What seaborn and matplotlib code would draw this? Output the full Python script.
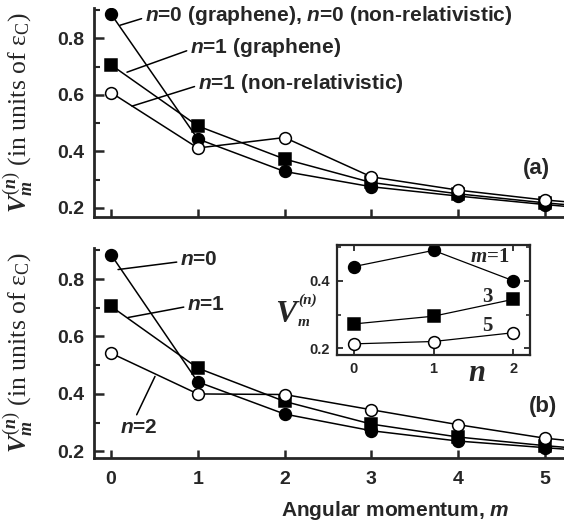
import numpy as np
import pandas as pd
import matplotlib
matplotlib.use("Agg")
import matplotlib.pyplot as plt
import seaborn as sns

# ---- data -------------------------------------------------------------
m_vals = [0, 1, 2, 3, 4, 5, 6]
m_ticks = [0, 1, 2, 3, 4, 5]

# panel (a): graphene vs non-relativistic pseudopotentials
a_n0 = [0.886, 0.444, 0.329, 0.275, 0.242, 0.212, 0.185]
a_n1_graphene = [0.706, 0.490, 0.373, 0.290, 0.250, 0.218, 0.192]
a_n1_nonrel = [0.608, 0.412, 0.449, 0.310, 0.263, 0.228, 0.203]

# panel (b): graphene, Landau levels n = 0, 1, 2
b_n0 = [0.885, 0.442, 0.330, 0.272, 0.236, 0.213, 0.190]
b_n1 = [0.705, 0.490, 0.374, 0.295, 0.250, 0.220, 0.195]
b_n2 = [0.542, 0.400, 0.398, 0.345, 0.293, 0.246, 0.215]

# inset: V_m^(n) versus n for m = 1, 3, 5
inset_n = [0, 1, 2]
inset_m = [1, 3, 5]

# ---- style ------------------------------------------------------------
sns.set_style("ticks")
plt.rcParams["font.family"] = ["Liberation Sans", "DejaVu Sans"]
plt.rcParams["font.weight"] = "bold"
plt.rcParams["mathtext.fontset"] = "custom"
plt.rcParams["mathtext.rm"] = "Liberation Serif:regular"
plt.rcParams["mathtext.it"] = "Liberation Serif:bold:italic"
plt.rcParams["mathtext.bf"] = "Liberation Serif:bold"
plt.rcParams["mathtext.bfit"] = "Liberation Sans:bold:italic"

W, H = 564, 525
fig = plt.figure(figsize=(W / 100, H / 100), dpi=100)
fig.patch.set_facecolor("white")


def frac(left, top, right, bottom):
    return [left / W, 1 - bottom / H, (right - left) / W, (bottom - top) / H]


ax_a = fig.add_axes(frac(94, 8, 564, 217))
ax_b = fig.add_axes(frac(94, 248, 564, 458))
ax_in = fig.add_axes(frac(337, 245, 530, 355))

LW = 1.1
MS = 8.5
filled_circle = dict(marker="o", markerfacecolor="black", markeredgecolor="black")
filled_square = dict(marker="s", markerfacecolor="black", markeredgecolor="black")
open_circle = dict(marker="o", markerfacecolor="white", markeredgecolor="black")


def series(ax, y, style, lw=LW, ms=MS):
    sns.lineplot(x=m_vals, y=y, ax=ax, color="black", linewidth=lw,
                 markersize=ms, markeredgewidth=1.1, legend=False, **style)


for ax, ylim in ((ax_a, (0.168, 0.907)), (ax_b, (0.177, 0.908))):
    ax.set_xlim(-0.196, 5.22)
    ax.set_ylim(*ylim)
    ax.spines["top"].set_visible(False)
    ax.spines["right"].set_visible(False)
    for s in ("left", "bottom"):
        ax.spines[s].set_linewidth(2.0)
    ax.set_xticks(m_ticks)
    ax.set_yticks([0.2, 0.4, 0.6, 0.8])
    ax.set_yticklabels(["0.2", "0.4", "0.6", "0.8"])
    ax.set_yticks([0.3, 0.5, 0.7, 0.9], minor=True)
    ax.tick_params(axis="both", which="major", direction="in", length=7,
                   width=1.8, labelsize=14)
    ax.tick_params(axis="y", which="major", pad=7)
    ax.tick_params(axis="x", which="major", pad=9, length=6)
    ax.tick_params(axis="y", which="minor", direction="in", length=4, width=1.5)
    ax.set_ylabel(r"$\mathit{V}_{\mathit{m}}^{\mathit{(n)}}$ (in units of $\mathrm{ε}_\mathrm{C}$)",
                  family="Liberation Serif", fontweight="normal", fontsize=18.5)
    ax.yaxis.set_label_coords(-0.125, 0.5)
    ax.set_xlabel("")

ax_a.set_xticklabels([])
ax_b.set_xticklabels([str(t) for t in m_ticks])

# panel (a)
series(ax_a, a_n0, filled_circle)
series(ax_a, a_n1_graphene, filled_square)
series(ax_a, a_n1_nonrel, open_circle)

# panel (b)
series(ax_b, b_n0, filled_circle)
series(ax_b, b_n1, filled_square)
series(ax_b, b_n2, open_circle)

lead = dict(arrowstyle="-", lw=LW, color="black", shrinkA=0, shrinkB=0)
txt = dict(fontsize=15, fontweight="bold", ha="left", va="center")

ax_a.annotate(r"$\mathbfit{n}$=0 (graphene), $\mathbfit{n}$=0 (non-relativistic)",
              xy=(0.104, 0.846), xytext=(0.39, 0.881),
              arrowprops=dict(relpos=(0, 0.4), **lead), **txt)
ax_a.annotate(r"$\mathbfit{n}$=1 (graphene)",
              xy=(0.184, 0.68), xytext=(0.91, 0.768),
              arrowprops=dict(relpos=(0, 0.4), **lead), **txt)
ax_a.annotate(r"$\mathbfit{n}$=1 (non-relativistic)",
              xy=(0.242, 0.56), xytext=(1.0, 0.641),
              arrowprops=dict(relpos=(0, 0.4), **lead), **txt)
ax_a.text(4.9, 0.338, "(a)", fontsize=16, fontweight="bold", ha="center", va="center")

ax_b.annotate(r"$\mathbfit{n}$=0", xy=(0.081, 0.833), xytext=(0.795, 0.867),
              arrowprops=dict(relpos=(0, 0.4), **lead), **txt)
ax_b.annotate(r"$\mathbfit{n}$=1", xy=(0.196, 0.666), xytext=(0.876, 0.711),
              arrowprops=dict(relpos=(0, 0.4), **lead), **txt)
ax_b.annotate(r"$\mathbfit{n}$=2", xy=(0.507, 0.461), xytext=(0.104, 0.283),
              arrowprops=dict(relpos=(0.4, 1.0), **lead), **txt)
ax_b.text(4.98, 0.356, "(b)", fontsize=16, fontweight="bold", ha="center", va="center")

fig.text(395 / W, 1 - 516 / H, r"Angular momentum, $\mathbfit{m}$", fontsize=15,
         fontweight="bold", ha="center", va="baseline")

# ---- inset: V versus n at fixed m ------------------------------------
by_n = pd.DataFrame({"n0": b_n0, "n1": b_n1, "n2": b_n2}, index=m_vals)
inset_styles = [filled_circle, filled_square, open_circle]
for mm, style in zip(inset_m, inset_styles):
    vals = by_n.loc[mm, ["n0", "n1", "n2"]].to_numpy(dtype=float)
    sns.lineplot(x=inset_n, y=vals, ax=ax_in, color="black", linewidth=0.9,
                 markersize=MS, markeredgewidth=1.1, legend=False, **style)

ax_in.set_xlim(-0.21, 2.21)
ax_in.set_ylim(0.18, 0.506)
ax_in.set_xticks(inset_n)
ax_in.set_xticklabels([str(v) for v in inset_n])
ax_in.set_yticks([0.2, 0.4])
ax_in.set_yticklabels(["0.2", "0.4"])
ax_in.set_yticks([0.3, 0.5], minor=True)
for s in ax_in.spines.values():
    s.set_linewidth(1.6)
ax_in.tick_params(axis="both", which="major", direction="in", length=4,
                  width=1.3, labelsize=10.5, top=True, right=True, pad=5)
ax_in.tick_params(axis="y", which="minor", direction="in", length=3,
                  width=1.2, right=True)
ax_in.set_xlabel("")
ax_in.set_ylabel("")

serif_bold = dict(family="Liberation Serif", fontweight="bold")
ax_in.text(1.71, 0.47, r"$m$=1", fontsize=15, ha="center", va="center", **serif_bold)
ax_in.text(1.68, 0.352, "3", fontsize=15, ha="center", va="center", **serif_bold)
ax_in.text(1.67, 0.266, "5", fontsize=15, ha="center", va="center", **serif_bold)
ax_in.text(1.54, 0.124, "n", fontsize=22, style="italic", ha="center", va="center",
           clip_on=False, **serif_bold)

fig.text(286 / W, 1 - 315 / H, "V", fontsize=23, style="italic", ha="center",
         va="center", **serif_bold)
fig.text(308 / W, 1 - 300 / H, "(n)", fontsize=11, style="italic", ha="center",
         va="center", **serif_bold)
fig.text(304 / W, 1 - 323 / H, "m", fontsize=11, style="italic", ha="center",
         va="center", **serif_bold)

fig.savefig("out.png", dpi=100, facecolor="white")
